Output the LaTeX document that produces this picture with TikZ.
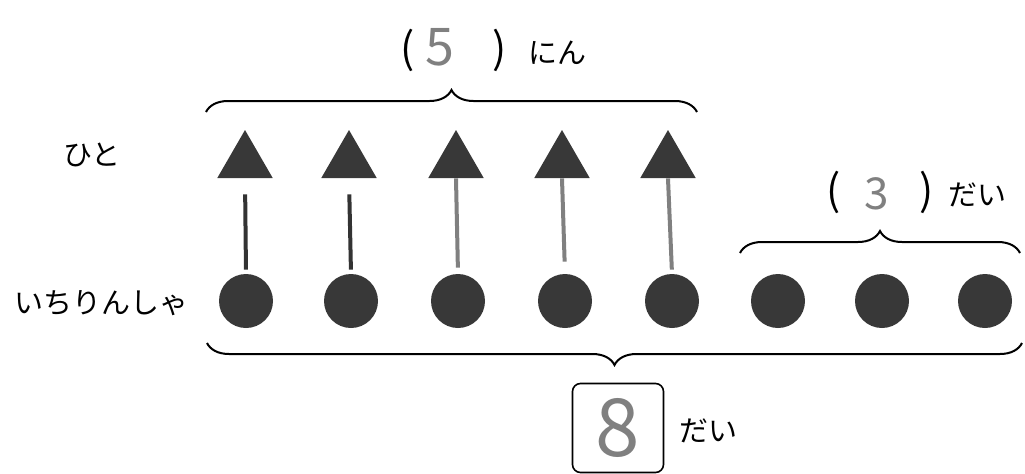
\documentclass[tikz,border=0pt]{standalone}
\usepackage{fontspec}
\setmainfont{Noto Sans CJK JP}
\usetikzlibrary{shapes.geometric,decorations.pathreplacing}
\tikzset{
    rad/.style={circle, fill=black!78, minimum size=27pt, inner sep=0pt},
    mensch/.style={regular polygon, regular polygon sides=3, fill=black!78, minimum size=32pt, inner sep=0pt},
    klammer/.style={decorate, decoration={brace, amplitude=11pt}, line width=1pt},
    schrift/.style={font=\fontsize{14.5}{16}\selectfont},
    paren/.style={font=\fontsize{21}{24}\selectfont},
    ziffer/.style={text=black!50, font=\fontsize{#1}{#1}\selectfont},
}
\begin{document}
\begin{tikzpicture}[x=0.5pt, y=-0.5pt]
    \useasboundingbox (0,0) rectangle (1025,473);
    %Beschriftung links
    \node[schrift] (hito) at (92,155) {ひと};
    \node[schrift] (ichi) at (102,303) {いちりんしゃ};

    %Einraeder
    \foreach[count=\i] \x in {246, 351, 458, 565, 672, 778, 882, 985} {
        \node[rad] (c\i) at (\x,301) {};
    }
    %Menschen mit Strichen
    \foreach[count=\i] \x/\farbe/\unten/\oben in {245/black!80/2/8, 349/black!80/2/8, 456/gray/3/0, 562/gray/6/0, 668/gray/2/0} {
        \node[mensch] (t\i) at (\x,162) {};
        \draw[line width=2pt, \farbe, shorten <=\unten pt, shorten >=\oben pt] (c\i.north) -- (t\i.south);
    }

    %Klammer oben: 5 nin
    \coordinate (o1) at (206,112);
    \coordinate (o2) at (697,112);
    \draw[klammer] (o1) -- (o2);
    \node[paren] (ol) at (408,50) {(};
    \node[ziffer=26] (fuenf) at (440,47) {5};
    \node[paren] (or) at (500,50) {)};
    \node[schrift] (nin) at (557,53) {にん};

    %Klammer rechts: 3 dai
    \coordinate (r1) at (740,253);
    \coordinate (r2) at (1020,253);
    \draw[klammer] (r1) -- (r2);
    \node[paren] (rl) at (834,192) {(};
    \node[ziffer=22] (drei) at (877,194) {3};
    \node[paren] (rr) at (927,192) {)};
    \node[schrift] (dai1) at (977,195) {だい};

    %Klammer unten: 8 dai
    \coordinate (u1) at (207,343);
    \coordinate (u2) at (1022,343);
    \draw[klammer] (u2) -- (u1);
    \node[draw, line width=0.8pt, rounded corners=4pt, minimum width=45.5pt, minimum height=44.5pt,
          ziffer=40] (acht) at (618,428) {8};
    \node[schrift] (dai2) at (708,431) {だい};
\end{tikzpicture}
\end{document}
